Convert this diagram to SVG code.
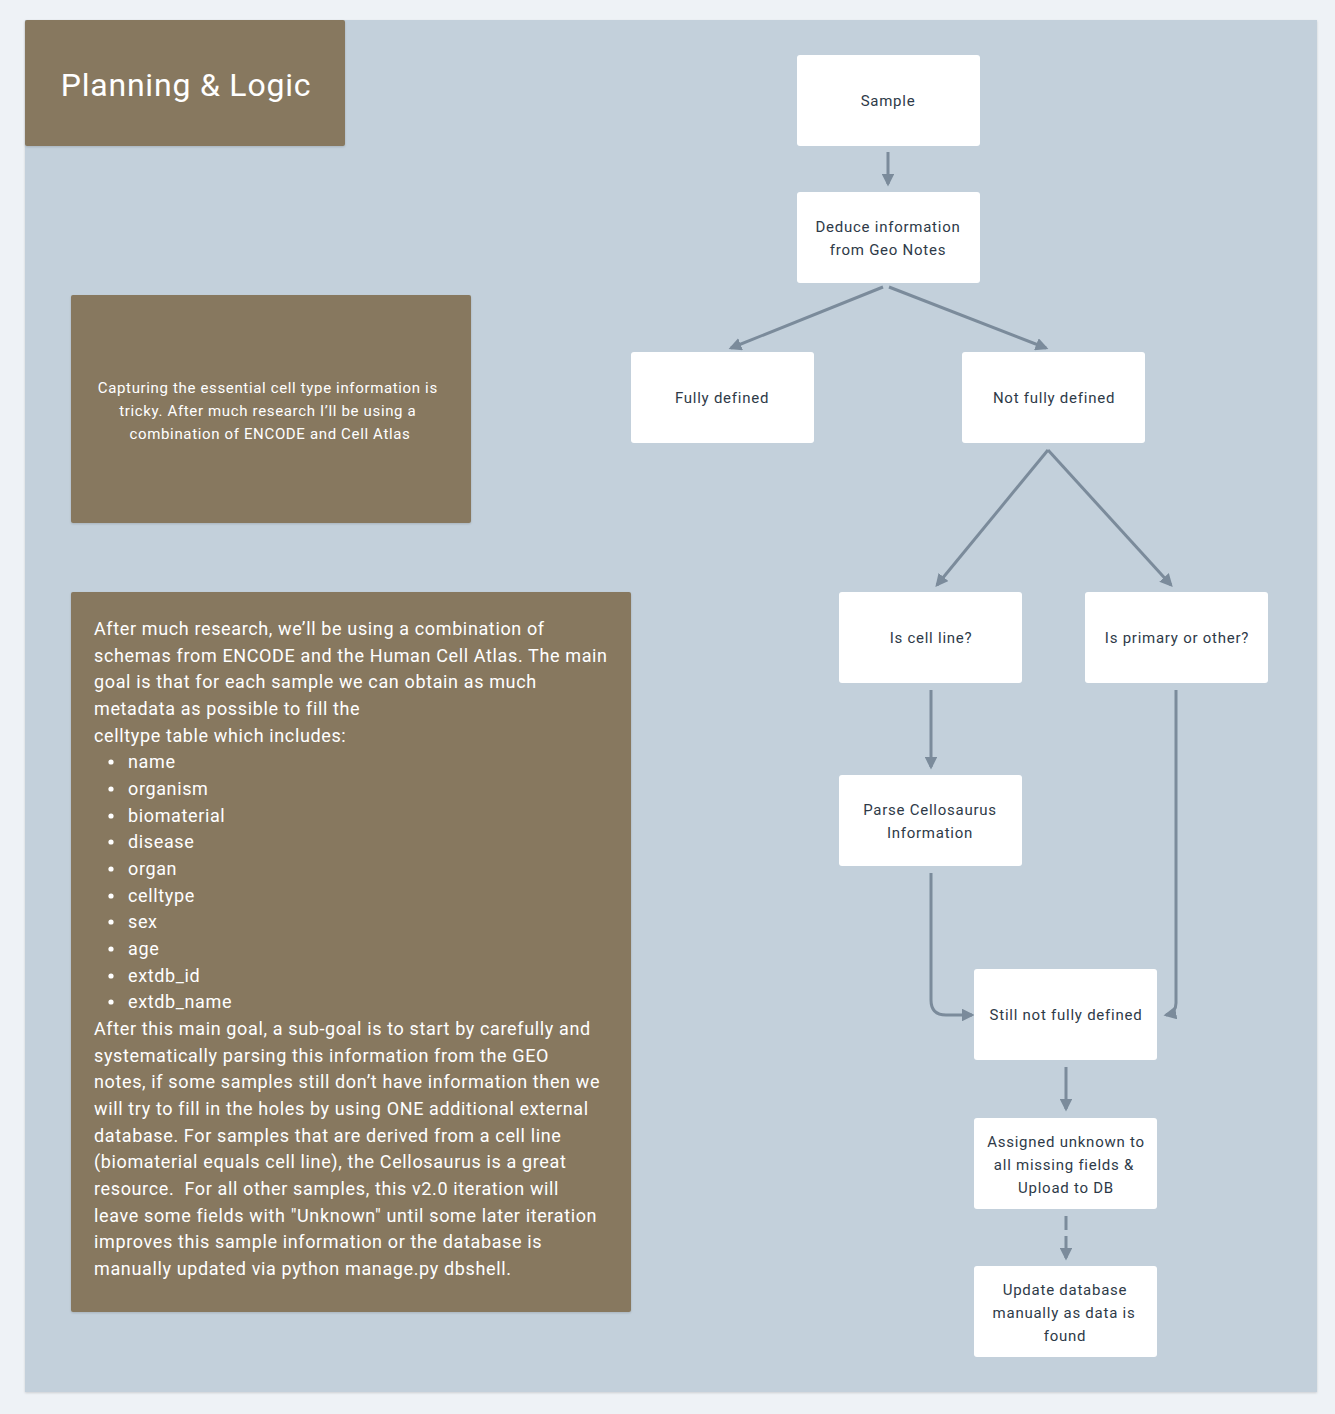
<svg xmlns="http://www.w3.org/2000/svg" width="1335" height="1414" viewBox="0 0 1335 1414">
<style>
.node rect{fill:#ffffff;}
.node text{font-family:Roboto,"Liberation Sans",sans-serif;font-size:15px;fill:#2e3a48;text-anchor:middle;dominant-baseline:central;letter-spacing:0.75px;}
.note rect{fill:#87785e;}
.note text{font-family:Roboto,"Liberation Sans",sans-serif;fill:#ffffff;}
.conn{fill:none;stroke:#7b8b9b;stroke-width:3;}
</style>
<defs>
<marker id="ah" viewBox="0 0 10 10" refX="8" refY="5" markerWidth="4.3" markerHeight="4.3" orient="auto" markerUnits="strokeWidth">
<path d="M0,0 L10,5 L0,10 z" fill="#7b8b9b"/>
</marker>
<filter id="sh" x="-5%" y="-5%" width="110%" height="110%">
<feDropShadow dx="0" dy="1" stdDeviation="1" flood-color="#000" flood-opacity="0.15"/>
</filter>
</defs>
<rect x="0" y="0" width="1335" height="1414" fill="#eef2f6"/>
<rect x="25" y="20" width="1292" height="1372" fill="#c3d0db" filter="url(#sh)"/>

<g id="title" class="note">
<rect x="25" y="20" width="320" height="126" rx="2" filter="url(#sh)"/>
<text x="186" y="85" font-size="32" text-anchor="middle" dominant-baseline="central" letter-spacing="0.8">Planning &amp; Logic</text>
</g>

<g id="note1" class="note">
<rect x="71" y="295" width="400" height="228" rx="2" filter="url(#sh)"/>
<text font-size="15" text-anchor="middle" dominant-baseline="central" letter-spacing="0.65">
<tspan x="270" y="388">Capturing the essential cell type information is</tspan>
<tspan x="270" y="411">tricky. After much research I’ll be using a</tspan>
<tspan x="270" y="434">combination of ENCODE and Cell Atlas</tspan>
</text>
</g>

<g id="note2" class="note">
<rect x="71" y="592" width="560" height="720" rx="2" filter="url(#sh)"/>
<text font-size="18" dominant-baseline="central" letter-spacing="0.63">
<tspan x="94" y="628">After much research, we’ll be using a combination of</tspan>
<tspan x="94" y="655">schemas from ENCODE and the Human Cell Atlas. The main</tspan>
<tspan x="94" y="681">goal is that for each sample we can obtain as much</tspan>
<tspan x="94" y="708">metadata as possible to fill the</tspan>
<tspan x="94" y="735">celltype table which includes:</tspan>
<tspan x="128" y="761">name</tspan>
<tspan x="128" y="788">organism</tspan>
<tspan x="128" y="815">biomaterial</tspan>
<tspan x="128" y="841">disease</tspan>
<tspan x="128" y="868">organ</tspan>
<tspan x="128" y="895">celltype</tspan>
<tspan x="128" y="921">sex</tspan>
<tspan x="128" y="948">age</tspan>
<tspan x="128" y="975">extdb_id</tspan>
<tspan x="128" y="1001">extdb_name</tspan>
<tspan x="94" y="1028">After this main goal, a sub-goal is to start by carefully and</tspan>
<tspan x="94" y="1055">systematically parsing this information from the GEO</tspan>
<tspan x="94" y="1081">notes, if some samples still don’t have information then we</tspan>
<tspan x="94" y="1108">will try to fill in the holes by using ONE additional external</tspan>
<tspan x="94" y="1135">database. For samples that are derived from a cell line</tspan>
<tspan x="94" y="1161">(biomaterial equals cell line), the Cellosaurus is a great</tspan>
<tspan x="94" y="1188" xml:space="preserve">resource.  For all other samples, this v2.0 iteration will</tspan>
<tspan x="94" y="1215">leave some fields with "Unknown" until some later iteration</tspan>
<tspan x="94" y="1241">improves this sample information or the database is</tspan>
<tspan x="94" y="1268">manually updated via python manage.py dbshell.</tspan>
</text>
<g fill="#ffffff">
<circle cx="111" cy="762" r="2.6"/>
<circle cx="111" cy="789" r="2.6"/>
<circle cx="111" cy="816" r="2.6"/>
<circle cx="111" cy="842" r="2.6"/>
<circle cx="111" cy="869" r="2.6"/>
<circle cx="111" cy="896" r="2.6"/>
<circle cx="111" cy="922" r="2.6"/>
<circle cx="111" cy="949" r="2.6"/>
<circle cx="111" cy="976" r="2.6"/>
<circle cx="111" cy="1002" r="2.6"/>
</g>
</g>

<g id="connectors">
<path class="conn" d="M888,152 L888,184" marker-end="url(#ah)"/>
<path class="conn" d="M883,287 L731,348" marker-end="url(#ah)"/>
<path class="conn" d="M889,287 L1046,348" marker-end="url(#ah)"/>
<path class="conn" d="M1048,450 L937,585" marker-end="url(#ah)"/>
<path class="conn" d="M1048,450 L1171,585" marker-end="url(#ah)"/>
<path class="conn" d="M931,690 L931,767" marker-end="url(#ah)"/>
<path class="conn" d="M931,873 L931,1000 Q931,1015 946,1015 L972,1015" marker-end="url(#ah)"/>
<path class="conn" d="M1176,690 L1176,1003 Q1176,1013 1166,1015" marker-end="url(#ah)"/>
<path class="conn" d="M1066,1067 L1066,1109" marker-end="url(#ah)"/>
<path class="conn" d="M1066,1216 L1066,1258" stroke-dasharray="14,6" marker-end="url(#ah)"/>
</g>

<g id="sample" class="node"><rect x="797" y="55" width="183" height="91" rx="3"/><text x="888" y="101">Sample</text></g>
<g id="deduce" class="node"><rect x="797" y="192" width="183" height="91" rx="3"/><text><tspan x="888" y="227">Deduce information</tspan><tspan x="888" y="250">from Geo Notes</tspan></text></g>
<g id="fully" class="node"><rect x="631" y="352" width="183" height="91" rx="3"/><text x="722" y="398">Fully defined</text></g>
<g id="notfully" class="node"><rect x="962" y="352" width="183" height="91" rx="3"/><text x="1054" y="398">Not fully defined</text></g>
<g id="cellline" class="node"><rect x="839" y="592" width="183" height="91" rx="3"/><text x="931" y="638">Is cell line?</text></g>
<g id="primary" class="node"><rect x="1085" y="592" width="183" height="91" rx="3"/><text x="1177" y="638">Is primary or other?</text></g>
<g id="parse" class="node"><rect x="839" y="775" width="183" height="91" rx="3"/><text><tspan x="930" y="810">Parse Cellosaurus</tspan><tspan x="930" y="833">Information</tspan></text></g>
<g id="still" class="node"><rect x="974" y="969" width="183" height="91" rx="3"/><text x="1066" y="1015">Still not fully defined</text></g>
<g id="assigned" class="node"><rect x="974" y="1118" width="183" height="91" rx="3"/><text><tspan x="1066" y="1142">Assigned unknown to</tspan><tspan x="1064" y="1165">all missing fields &amp;</tspan><tspan x="1066" y="1188">Upload to DB</tspan></text></g>
<g id="update" class="node"><rect x="974" y="1266" width="183" height="91" rx="3"/><text><tspan x="1065" y="1290">Update database</tspan><tspan x="1064" y="1313">manually as data is</tspan><tspan x="1065" y="1336">found</tspan></text></g>
</svg>
